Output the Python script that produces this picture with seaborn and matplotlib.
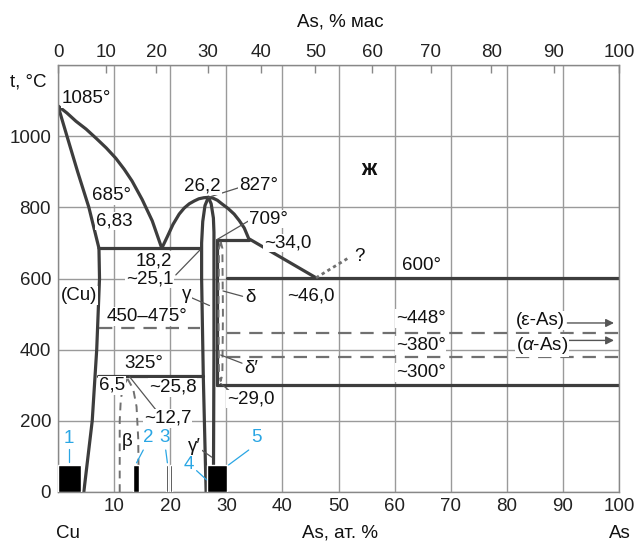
import numpy as np
import seaborn as sns
import matplotlib.pyplot as plt

# Cu-As phase diagram, x in at.% As, t in deg C
liq_left_x = [0, 1.6, 3.2, 5.0, 6.8, 8.6, 10.3, 11.8, 13.2, 15.0, 16.8, 18.5]
liq_left_t = [1085, 1065, 1042, 1020, 994, 967, 938, 907, 874, 822, 762, 685]
solidus_x = [0, 1.6, 3.5, 5.5, 7.3]
solidus_t = [1085, 1000, 900, 800, 685]
cu_solvus_x = [7.3, 7.4, 6.9, 6.1, 4.6]
cu_solvus_t = [685, 600, 400, 200, 0]
dome_x = [18.5, 19.5, 20.5, 21.6, 22.5, 23.4, 24.3, 25.1, 26.0, 26.8, 27.6,
          28.4, 29.2, 30.3, 31.4, 32.3, 33.2, 34.0, 40.0, 46.0]
dome_t = [685, 718, 752, 781, 798, 810, 818, 824, 827, 828, 826,
          820, 810, 797, 781, 763, 742, 712, 657, 602]
gamma_left_x = [26.8, 26.2, 25.8, 25.6, 25.6, 25.9, 26.4]
gamma_left_t = [828, 805, 760, 700, 600, 325, 0]
gamma_right_x = [26.8, 27.3, 27.7, 27.8, 27.8, 27.7]
gamma_right_t = [828, 810, 770, 730, 400, 0]
delta_left_x = [28.3, 28.3]
delta_left_t = [709, 302]
delta_loop_x = [29.0, 28.7, 28.6, 28.7, 29.0, 29.3, 29.4, 29.3, 29.0]
delta_loop_t = [703, 685, 500, 330, 312, 330, 500, 685, 703]
beta_left_x = [11.0, 11.0, 11.2, 11.7, 12.4]
beta_left_t = [0, 200, 262, 300, 318]
beta_right_x = [12.4, 13.4, 14.0, 14.3, 14.4]
beta_right_t = [318, 290, 240, 150, 0]
unknown_x = [46.0, 52.0]
unknown_t = [602, 660]

# isotherms: (x_from, x_to, t, dashed)
iso_x0 = [7.3, 28.3, 30.1, 7.1, 28.3, 7.3, 30.1, 30.1]
iso_x1 = [25.4, 34.0, 100, 25.9, 100, 25.4, 100, 100]
iso_t = [685, 709, 602, 325, 302, 460, 448, 378]
iso_dash = [False, False, False, False, False, True, True, True]

# sample compositions (black blocks)
block_x0 = [0, 13.4, 19.2, 19.9, 26.6]
block_x1 = [4.1, 14.4, 19.6, 20.3, 30.2]
block_t = [76, 76, 76, 76, 76]

wt_ticks = [0, 10, 20, 30, 40, 50, 60, 70, 80, 90, 100]
at_ticks = [0, 10, 20, 30, 40, 50, 60, 70, 80, 90, 100]
t_ticks = [0, 200, 400, 600, 800, 1000, 1200]

M_AS, M_CU = 74.92, 63.55


def wt2at(w):
    w = np.clip(np.asarray(w, dtype=float), 0, 100)
    a = w / M_AS
    b = (100 - w) / M_CU
    return 100 * a / np.where(a + b == 0, 1, a + b)


def at2wt(x):
    x = np.clip(np.asarray(x, dtype=float), 0, 100)
    a = x * M_AS
    b = (100 - x) * M_CU
    return 100 * a / np.where(a + b == 0, 1, a + b)


sns.set_theme(style='white')
plt.rcParams['font.family'] = ['Liberation Sans', 'DejaVu Sans']
plt.rcParams['mathtext.fontset'] = 'custom'
plt.rcParams['mathtext.it'] = 'Liberation Sans:italic'

LINE = '#3d3d3d'
DASH = '#707070'
GRID = '#9a9a9a'
BLUE = '#2aa6e4'
FS = 13.5

fig = plt.figure(figsize=(6.41, 5.42), dpi=100)
ax = fig.add_axes([58 / 641, 50 / 542, 561 / 641, 427 / 542])
ax.set_xlim(0, 100)
ax.set_ylim(0, 1200)

ax.set_xticks(at_ticks)
ax.set_xticklabels([''] + [str(v) for v in at_ticks[1:]])
ax.set_yticks(t_ticks)
ax.set_yticklabels([str(v) for v in t_ticks[:-1]] + [''])
ax.tick_params(axis='both', length=0, labelsize=FS, colors='#222222')
ax.tick_params(axis='x', pad=4)
ax.tick_params(axis='y', pad=5)
ax.grid(True, color=GRID, lw=1.0)
for s in ax.spines.values():
    s.set_color('#888888')
    s.set_linewidth(1.0)

top = ax.secondary_xaxis('top', functions=(at2wt, wt2at))
top.set_xticks(wt_ticks)
top.tick_params(direction='in', length=6, width=1, colors='#888888',
                labelcolor='#222222', labelsize=FS, pad=3)
top.spines['top'].set_visible(False)

# phase boundaries
curves = [(liq_left_x, liq_left_t), (solidus_x, solidus_t),
          (cu_solvus_x, cu_solvus_t), (dome_x, dome_t),
          (gamma_left_x, gamma_left_t), (gamma_right_x, gamma_right_t),
          (delta_left_x, delta_left_t)]
for cx, ct in curves:
    sns.lineplot(x=cx, y=ct, sort=False, estimator=None, color=LINE,
                 lw=2.3, ax=ax)

for x0, x1, t, d in zip(iso_x0, iso_x1, iso_t, iso_dash):
    if d:
        sns.lineplot(x=[x0, x1], y=[t, t], color=DASH, lw=1.6, ax=ax,
                     estimator=None, linestyle=(0, (6, 4)))
    else:
        sns.lineplot(x=[x0, x1], y=[t, t], color=LINE, lw=2.3, ax=ax,
                     estimator=None)

for cx, ct in [(delta_loop_x, delta_loop_t), (beta_left_x, beta_left_t),
               (beta_right_x, beta_right_t)]:
    sns.lineplot(x=cx, y=ct, sort=False, estimator=None, color=DASH,
                 lw=1.4, linestyle=(0, (4, 3)), ax=ax)
sns.lineplot(x=unknown_x, y=unknown_t, estimator=None, color=DASH, lw=2.0,
             linestyle=(0, (1.2, 1.2)), ax=ax)

ax.bar(block_x0, block_t, width=np.array(block_x1) - np.array(block_x0),
       align='edge', color='black', zorder=3)

box = dict(facecolor='white', edgecolor='none', pad=0.5)


def label(x, y, s, ha='left', **kw):
    ax.text(x, y, s, ha=ha, va='center', fontsize=FS, color='#111111',
            bbox=box, zorder=5, **kw)


def leader(x0, y0, x1, y1, color='#555555'):
    ax.plot([x0, x1], [y0, y1], color=color, lw=0.9, zorder=4)


label(0.7, 1106, '1085°')
label(6.1, 832, '685°')
label(6.8, 762, '6,83')
label(22.5, 860, '26,2')
label(32.3, 860, '827°')
leader(26.8, 828, 32.2, 855)
label(34.0, 767, '709°')
leader(28.3, 709, 34.0, 762)
label(36.7, 700, '~34,0')
label(17.1, 650, '18,2', ha='center')
leader(21.0, 610, 25.3, 680)
label(12.1, 600, '~25,1')
label(0.5, 552, '(Cu)')
label(22.1, 556, 'γ')
leader(23.5, 548, 27.0, 524)
label(33.4, 546, 'δ')
leader(32.9, 550, 29.4, 565)
label(40.8, 552, '~46,0')
label(52.8, 662, '?')
label(61.3, 636, '600°')
label(8.6, 493, '450–475°')
label(60.2, 487, '~448°')
label(60.2, 412, '~380°')
label(60.2, 336, '~300°')
label(81.6, 482, '(ε-As)')
label(81.6, 412, '($\\mathit{\\alpha}$-As)')
ax.annotate('', xy=(99.6, 475), xytext=(90.3, 475),
            arrowprops=dict(arrowstyle='-|>', color='#555555', lw=1.0))
ax.annotate('', xy=(99.6, 426), xytext=(90.3, 426),
            arrowprops=dict(arrowstyle='-|>', color='#555555', lw=1.0))
label(11.8, 361, '325°')
label(7.3, 300, '6,5')
label(16.2, 294, '~25,8')
label(15.3, 207, '~12,7')
leader(12.7, 325, 17.5, 230)
label(33.2, 347, 'δ′')
leader(29.0, 385, 32.8, 362)
label(30.1, 262, '~29,0')
leader(29.0, 305, 30.9, 280)
label(12.3, 142, 'β', ha='center')
label(24.3, 128, 'γ′', ha='center')
leader(25.4, 120, 27.4, 98)
ax.text(55.4, 907, 'ж', ha='center', va='center', fontsize=FS + 2,
        fontweight='bold', color='#111111')

# sample numbers
blue_txt = [('1', 1.9, 150), ('2', 16.0, 152), ('3', 19.0, 152),
            ('4', 23.4, 78), ('5', 35.3, 152)]
for s, x, y in blue_txt:
    ax.text(x, y, s, ha='center', va='center', fontsize=FS, color=BLUE,
            zorder=5)
leader(1.9, 120, 1.9, 84, BLUE)
leader(15.2, 118, 14.0, 82, BLUE)
leader(19.2, 118, 19.5, 82, BLUE)
leader(24.7, 60, 26.5, 34, BLUE)
leader(34.0, 118, 30.4, 76, BLUE)

fig.text(340 / 641, 1 - 22 / 542, 'As, % мас', ha='center', va='center',
         fontsize=FS, color='#111111')
fig.text(28 / 641, 1 - 82 / 542, 't, °C', ha='center', va='center',
         fontsize=FS, color='#111111')
fig.text(68 / 641, 1 - 533 / 542, 'Cu', ha='center', va='center',
         fontsize=FS, color='#111111')
fig.text(340 / 641, 1 - 533 / 542, 'As, ат. %', ha='center', va='center',
         fontsize=FS, color='#111111')
fig.text(620 / 641, 1 - 533 / 542, 'As', ha='center', va='center',
         fontsize=FS, color='#111111')

fig.savefig('out.png', dpi=100, facecolor='white')
